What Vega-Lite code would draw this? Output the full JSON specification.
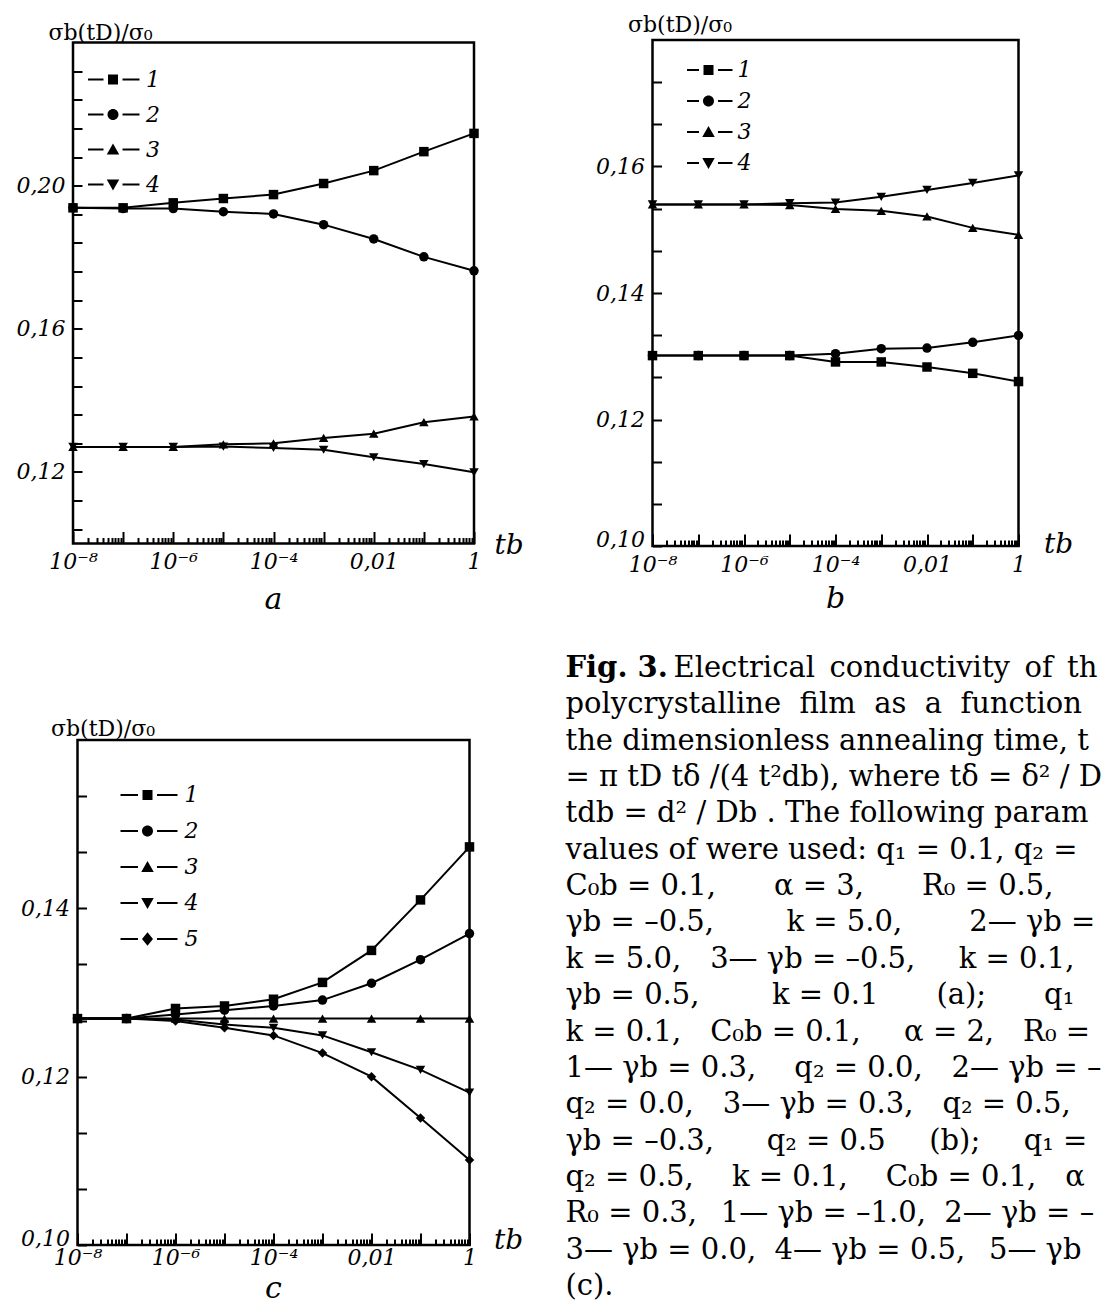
{
  "$schema": "https://vega.github.io/schema/vega-lite/v6.json",
  "background": "white",
  "padding": {"left": 14, "top": 11, "right": 0, "bottom": 0},
  "columns": 2,
  "bounds": "flush",
  "center": true,
  "spacing": {"row": 194, "column": 178.5},
  "config": {
    "view": {"stroke": "black", "strokeWidth": 2.5},
    "font": "DejaVu Serif",
    "axis": {"domain": false, "grid": false, "labelFont": "DejaVu Serif", "labelFontStyle": "italic", "labelFontSize": 22, "labelColor": "black", "tickColor": "black", "tickWidth": 2, "titleFont": "DejaVu Serif", "titleFontWeight": "normal", "titleFontSize": 22, "titleColor": "black", "labelOverlap": false, "labelFlush": false, "labelBound": false},
    "legend": {"orient": "none", "title": null, "padding": 0, "labelFont": "DejaVu Serif", "labelFontStyle": "italic", "labelFontSize": 22, "labelColor": "black", "symbolSize": 100, "symbolStrokeWidth": 2, "symbolStrokeColor": "black", "symbolFillColor": "black", "symbolOpacity": 1},
    "title": {"font": "DejaVu Serif", "fontStyle": "italic", "fontWeight": "normal", "fontSize": 30, "color": "black", "orient": "bottom"}
  },
  "datasets": {
    "pa": [
      {"t":1e-8,"v":0.1938,"s":"1"},{"t":1e-7,"v":0.1938,"s":"1"},{"t":1e-6,"v":0.1952,"s":"1"},{"t":1e-5,"v":0.1964,"s":"1"},{"t":1e-4,"v":0.1975,"s":"1"},{"t":1e-3,"v":0.2006,"s":"1"},{"t":1e-2,"v":0.2042,"s":"1"},{"t":1e-1,"v":0.2095,"s":"1"},{"t":1,"v":0.2146,"s":"1"},
      {"t":1e-8,"v":0.1938,"s":"2"},{"t":1e-7,"v":0.1936,"s":"2"},{"t":1e-6,"v":0.1936,"s":"2"},{"t":1e-5,"v":0.1927,"s":"2"},{"t":1e-4,"v":0.1921,"s":"2"},{"t":1e-3,"v":0.1891,"s":"2"},{"t":1e-2,"v":0.1851,"s":"2"},{"t":1e-1,"v":0.1801,"s":"2"},{"t":1,"v":0.1762,"s":"2"},
      {"t":1e-8,"v":0.1270,"s":"3"},{"t":1e-7,"v":0.1270,"s":"3"},{"t":1e-6,"v":0.1270,"s":"3"},{"t":1e-5,"v":0.1277,"s":"3"},{"t":1e-4,"v":0.1280,"s":"3"},{"t":1e-3,"v":0.1295,"s":"3"},{"t":1e-2,"v":0.1307,"s":"3"},{"t":1e-1,"v":0.1339,"s":"3"},{"t":1,"v":0.1355,"s":"3"},
      {"t":1e-8,"v":0.1270,"s":"4"},{"t":1e-7,"v":0.1270,"s":"4"},{"t":1e-6,"v":0.1270,"s":"4"},{"t":1e-5,"v":0.1271,"s":"4"},{"t":1e-4,"v":0.1267,"s":"4"},{"t":1e-3,"v":0.1262,"s":"4"},{"t":1e-2,"v":0.1241,"s":"4"},{"t":1e-1,"v":0.1222,"s":"4"},{"t":1,"v":0.1199,"s":"4"}
    ],
    "pb": [
      {"t":1e-8,"v":0.1301,"s":"1"},{"t":1e-7,"v":0.1301,"s":"1"},{"t":1e-6,"v":0.1301,"s":"1"},{"t":1e-5,"v":0.1301,"s":"1"},{"t":1e-4,"v":0.1291,"s":"1"},{"t":1e-3,"v":0.1291,"s":"1"},{"t":1e-2,"v":0.1283,"s":"1"},{"t":1e-1,"v":0.1273,"s":"1"},{"t":1,"v":0.1260,"s":"1"},
      {"t":1e-8,"v":0.1301,"s":"2"},{"t":1e-7,"v":0.1301,"s":"2"},{"t":1e-6,"v":0.1301,"s":"2"},{"t":1e-5,"v":0.1301,"s":"2"},{"t":1e-4,"v":0.1304,"s":"2"},{"t":1e-3,"v":0.1312,"s":"2"},{"t":1e-2,"v":0.1313,"s":"2"},{"t":1e-1,"v":0.1322,"s":"2"},{"t":1,"v":0.1333,"s":"2"},
      {"t":1e-8,"v":0.1540,"s":"3"},{"t":1e-7,"v":0.1540,"s":"3"},{"t":1e-6,"v":0.1540,"s":"3"},{"t":1e-5,"v":0.1539,"s":"3"},{"t":1e-4,"v":0.1533,"s":"3"},{"t":1e-3,"v":0.1530,"s":"3"},{"t":1e-2,"v":0.1521,"s":"3"},{"t":1e-1,"v":0.1503,"s":"3"},{"t":1,"v":0.1492,"s":"3"},
      {"t":1e-8,"v":0.1540,"s":"4"},{"t":1e-7,"v":0.1540,"s":"4"},{"t":1e-6,"v":0.1540,"s":"4"},{"t":1e-5,"v":0.1542,"s":"4"},{"t":1e-4,"v":0.1543,"s":"4"},{"t":1e-3,"v":0.1552,"s":"4"},{"t":1e-2,"v":0.1563,"s":"4"},{"t":1e-1,"v":0.1574,"s":"4"},{"t":1,"v":0.1586,"s":"4"}
    ],
    "pc": [
      {"t":1e-8,"v":0.1269,"s":"1"},{"t":1e-7,"v":0.1269,"s":"1"},{"t":1e-6,"v":0.1281,"s":"1"},{"t":1e-5,"v":0.1284,"s":"1"},{"t":1e-4,"v":0.1292,"s":"1"},{"t":1e-3,"v":0.1312,"s":"1"},{"t":1e-2,"v":0.1350,"s":"1"},{"t":1e-1,"v":0.1410,"s":"1"},{"t":1,"v":0.1473,"s":"1"},
      {"t":1e-8,"v":0.1269,"s":"2"},{"t":1e-7,"v":0.1269,"s":"2"},{"t":1e-6,"v":0.1274,"s":"2"},{"t":1e-5,"v":0.1279,"s":"2"},{"t":1e-4,"v":0.1284,"s":"2"},{"t":1e-3,"v":0.1291,"s":"2"},{"t":1e-2,"v":0.1311,"s":"2"},{"t":1e-1,"v":0.1339,"s":"2"},{"t":1,"v":0.1370,"s":"2"},
      {"t":1e-8,"v":0.1269,"s":"3"},{"t":1e-7,"v":0.1269,"s":"3"},{"t":1e-6,"v":0.1269,"s":"3"},{"t":1e-5,"v":0.1269,"s":"3"},{"t":1e-4,"v":0.1269,"s":"3"},{"t":1e-3,"v":0.1269,"s":"3"},{"t":1e-2,"v":0.1269,"s":"3"},{"t":1e-1,"v":0.1269,"s":"3"},{"t":1,"v":0.1269,"s":"3"},
      {"t":1e-8,"v":0.1269,"s":"4"},{"t":1e-7,"v":0.1269,"s":"4"},{"t":1e-6,"v":0.1268,"s":"4"},{"t":1e-5,"v":0.1262,"s":"4"},{"t":1e-4,"v":0.1258,"s":"4"},{"t":1e-3,"v":0.1249,"s":"4"},{"t":1e-2,"v":0.1229,"s":"4"},{"t":1e-1,"v":0.1208,"s":"4"},{"t":1,"v":0.1181,"s":"4"},
      {"t":1e-8,"v":0.1269,"s":"5"},{"t":1e-7,"v":0.1269,"s":"5"},{"t":1e-6,"v":0.1266,"s":"5"},{"t":1e-5,"v":0.1258,"s":"5"},{"t":1e-4,"v":0.1249,"s":"5"},{"t":1e-3,"v":0.1228,"s":"5"},{"t":1e-2,"v":0.1200,"s":"5"},{"t":1e-1,"v":0.1151,"s":"5"},{"t":1,"v":0.1101,"s":"5"}
    ],
    "cap": [
      {"line":1,"part":"bold","text":"Fig. 3."},
      {"line":1,"part":"rest","text":"Electrical\u2002conductivity\u2002of\u2002the"},
      {"line":2,"part":"body","text":"polycrystalline\u00a0\u00a0film\u00a0\u00a0as\u00a0\u00a0a\u00a0\u00a0function\u00a0\u00a0of"},
      {"line":3,"part":"body","text":"the dimensionless annealing time, tb"},
      {"line":4,"part":"body","text":"= π tD tδ /(4 t²db), where tδ = δ² / Dₗ and"},
      {"line":5,"part":"body","text":"tdb = d² / Db . The following parameter"},
      {"line":6,"part":"body","text":"values of were used: q₁ = 0.1, q₂ = 0.0,"},
      {"line":7,"part":"body","text":"C₀b = 0.1,\u2003\u2003α = 3,\u2003\u2003R₀ = 0.5,\u2003\u20021—"},
      {"line":8,"part":"body","text":"γb = –0.5,\u2003\u2003\u2002k = 5.0,\u2003\u2003\u00a02— γb = 0.5,"},
      {"line":9,"part":"body","text":"k = 5.0,\u20033— γb = –0.5,\u2003\u2002k = 0.1,\u2003\u00a04— γb"},
      {"line":10,"part":"body","text":"γb = 0.5,\u2003\u2003\u2002k = 0.1\u2003\u2003(a);\u2003\u2003q₁ = 0.1,"},
      {"line":11,"part":"body","text":"k = 0.1,\u2003C₀b = 0.1,\u2003\u2002α = 2,\u2003R₀ = 0.3,"},
      {"line":12,"part":"body","text":"1— γb = 0.3,\u2003\u00a0q₂ = 0.0,\u20032— γb = –0.3,"},
      {"line":13,"part":"body","text":"q₂ = 0.0,\u20033— γb = 0.3,\u2003q₂ = 0.5,\u2003\u00a04—"},
      {"line":14,"part":"body","text":"γb = –0.3,\u2003\u2002\u00a0q₂ = 0.5\u2003\u2002(b);\u2003\u2002q₁ = 0.1,"},
      {"line":15,"part":"body","text":"q₂ = 0.5,\u2003\u00a0k = 0.1,\u2003\u00a0C₀b = 0.1,\u2003α = 2,"},
      {"line":16,"part":"body","text":"R₀ = 0.3,\u00a0\u20021— γb = –1.0,\u00a0\u00a02— γb = –0.5,"},
      {"line":17,"part":"body","text":"3— γb = 0.0,\u00a0\u00a04— γb = 0.5,\u00a0\u20025— γb = 1.0"},
      {"line":18,"part":"body","text":"(c)."}
    ]
  },
  "concat": [
    {
      "width": 401, "height": 501,
      "title": {"text": "a", "offset": 6},
      "data": {"name": "pa"},
      "encoding": {
        "x": {"field": "t", "type": "quantitative", "scale": {"type": "log", "domain": [1e-8, 1], "nice": false},
          "axis": {"values": [1e-8,2e-8,3e-8,4e-8,5e-8,6e-8,7e-8,8e-8,9e-8,1e-7,2e-7,3e-7,4e-7,5e-7,6e-7,7e-7,8e-7,9e-7,1e-6,2e-6,3e-6,4e-6,5e-6,6e-6,7e-6,8e-6,9e-6,1e-5,2e-5,3e-5,4e-5,5e-5,6e-5,7e-5,8e-5,9e-5,1e-4,2e-4,3e-4,4e-4,5e-4,6e-4,7e-4,8e-4,9e-4,1e-3,2e-3,3e-3,4e-3,5e-3,6e-3,7e-3,8e-3,9e-3,1e-2,2e-2,3e-2,4e-2,5e-2,6e-2,7e-2,8e-2,9e-2,1e-1,2e-1,3e-1,4e-1,5e-1,6e-1,7e-1,8e-1,9e-1,1],
            "tickSize": {"condition": {"test": "abs(log(datum.value)/LN10 - round(log(datum.value)/LN10)) < 0.001", "value": -12}, "value": -6},
            "labelExpr": "abs(datum.value-1e-8)<1e-12 ? '10⁻⁸' : abs(datum.value-1e-6)<1e-10 ? '10⁻⁶' : abs(datum.value-1e-4)<1e-8 ? '10⁻⁴' : abs(datum.value-0.01)<1e-6 ? '0,01' : abs(datum.value-1)<1e-4 ? '1' : ''",
            "labelPadding": 20,
            "title": "tb", "titleFontStyle": "italic", "titleFontSize": 28, "titleAlign": "left", "titleBaseline": "alphabetic", "titleX": 421, "titleY": 10}},
        "y": {"field": "v", "type": "quantitative", "scale": {"domain": [0.10, 0.24], "nice": false, "zero": false},
          "axis": {"values": [0.104,0.112,0.12,0.128,0.136,0.144,0.152,0.16,0.168,0.176,0.184,0.192,0.2,0.208,0.216,0.224,0.232],
            "tickSize": -9,
            "labelExpr": "abs(datum.value*25 - round(datum.value*25)) < 0.001 ? replace(format(datum.value, '.2f'), '.', ',') : ''",
            "labelPadding": 17,
            "title": "σb(tD)/σ₀", "titleAngle": 0, "titleAlign": "left", "titleBaseline": "alphabetic", "titleX": -25, "titleY": -3}}
      },
      "layer": [
        {"mark": {"type": "line", "color": "black", "strokeWidth": 2}, "encoding": {"detail": {"field": "s"}}},
        {"mark": {"type": "point", "filled": true, "color": "black", "opacity": 1, "size": 90},
          "encoding": {"shape": {"field": "s", "type": "nominal", "scale": {"domain": ["1","2","3","4"], "range": ["square","circle","triangle-up","triangle-down"]}, "legend": null}}},
        {"transform": [{"filter": "false"}],
          "mark": {"type": "point", "filled": true, "color": "black", "size": 100},
          "encoding": {"shape": {"field": "s", "type": "nominal",
            "scale": {"domain": ["1","2","3","4"], "range": ["M-5,-0.2H-1.9V0.2H-5ZM1.9,-0.2H5.3V0.2H1.9ZM-1,-1H1V1H-1Z", "M-5,-0.2H-1.9V0.2H-5ZM1.9,-0.2H5.3V0.2H1.9ZM-1.1,0A1.1,1.1 0 1 1 1.1,0A1.1,1.1 0 1 1 -1.1,0Z", "M-5,-0.2H-1.9V0.2H-5ZM1.9,-0.2H5.3V0.2H1.9ZM0,-1.2L1.25,1L-1.25,1Z", "M-5,-0.2H-1.9V0.2H-5ZM1.9,-0.2H5.3V0.2H1.9ZM0,1.2L1.25,-1L-1.25,-1Z"]},
            "legend": {"legendX": 29, "legendY": 26, "labelOffset": 22, "rowPadding": 13}}}}
      ],
      "resolve": {"scale": {"shape": "independent"}}
    },
    {
      "width": 366, "height": 506,
      "title": {"text": "b", "offset": 3},
      "data": {"name": "pb"},
      "encoding": {
        "x": {"field": "t", "type": "quantitative", "scale": {"type": "log", "domain": [1e-8, 1], "nice": false},
          "axis": {"values": [1e-8,2e-8,3e-8,4e-8,5e-8,6e-8,7e-8,8e-8,9e-8,1e-7,2e-7,3e-7,4e-7,5e-7,6e-7,7e-7,8e-7,9e-7,1e-6,2e-6,3e-6,4e-6,5e-6,6e-6,7e-6,8e-6,9e-6,1e-5,2e-5,3e-5,4e-5,5e-5,6e-5,7e-5,8e-5,9e-5,1e-4,2e-4,3e-4,4e-4,5e-4,6e-4,7e-4,8e-4,9e-4,1e-3,2e-3,3e-3,4e-3,5e-3,6e-3,7e-3,8e-3,9e-3,1e-2,2e-2,3e-2,4e-2,5e-2,6e-2,7e-2,8e-2,9e-2,1e-1,2e-1,3e-1,4e-1,5e-1,6e-1,7e-1,8e-1,9e-1,1],
            "tickSize": {"condition": {"test": "abs(log(datum.value)/LN10 - round(log(datum.value)/LN10)) < 0.001", "value": -12}, "value": -6},
            "labelExpr": "abs(datum.value-1e-8)<1e-12 ? '10⁻⁸' : abs(datum.value-1e-6)<1e-10 ? '10⁻⁶' : abs(datum.value-1e-4)<1e-8 ? '10⁻⁴' : abs(datum.value-0.01)<1e-6 ? '0,01' : abs(datum.value-1)<1e-4 ? '1' : ''",
            "labelPadding": 20,
            "title": "tb", "titleFontStyle": "italic", "titleFontSize": 28, "titleAlign": "left", "titleBaseline": "alphabetic", "titleX": 391, "titleY": 6}},
        "y": {"field": "v", "type": "quantitative", "scale": {"domain": [0.10, 0.18], "nice": false, "zero": false},
          "axis": {"values": [0.1,0.106667,0.113333,0.12,0.126667,0.133333,0.14,0.146667,0.153333,0.16,0.166667,0.173333],
            "tickSize": -9,
            "labelExpr": "abs(datum.value*50 - round(datum.value*50)) < 0.001 ? replace(format(datum.value, '.2f'), '.', ',') : ''",
            "labelBaseline": {"condition": {"test": "datum.value < 0.1001", "value": "alphabetic"}, "value": "middle"},
            "labelPadding": 17,
            "title": "σb(tD)/σ₀", "titleAngle": 0, "titleAlign": "left", "titleBaseline": "alphabetic", "titleX": -25, "titleY": -9}}
      },
      "layer": [
        {"mark": {"type": "line", "color": "black", "strokeWidth": 2}, "encoding": {"detail": {"field": "s"}}},
        {"mark": {"type": "point", "filled": true, "color": "black", "opacity": 1, "size": 90},
          "encoding": {"shape": {"field": "s", "type": "nominal", "scale": {"domain": ["1","2","3","4"], "range": ["square","circle","triangle-up","triangle-down"]}, "legend": null}}},
        {"transform": [{"filter": "false"}],
          "mark": {"type": "point", "filled": true, "color": "black", "size": 100},
          "encoding": {"shape": {"field": "s", "type": "nominal",
            "scale": {"domain": ["1","2","3","4"], "range": ["M-4.3,-0.2H-1.9V0.2H-4.3ZM1.9,-0.2H4.8V0.2H1.9ZM-1,-1H1V1H-1Z", "M-4.3,-0.2H-1.9V0.2H-4.3ZM1.9,-0.2H4.8V0.2H1.9ZM-1.1,0A1.1,1.1 0 1 1 1.1,0A1.1,1.1 0 1 1 -1.1,0Z", "M-4.3,-0.2H-1.9V0.2H-4.3ZM1.9,-0.2H4.8V0.2H1.9ZM0,-1.2L1.25,1L-1.25,1Z", "M-4.3,-0.2H-1.9V0.2H-4.3ZM1.9,-0.2H4.8V0.2H1.9ZM0,1.2L1.25,-1L-1.25,-1Z"]},
            "legend": {"legendX": 45, "legendY": 19, "labelOffset": 18, "rowPadding": 9}}}}
      ],
      "resolve": {"scale": {"shape": "independent"}}
    },
    {
      "width": 392, "height": 505,
      "title": {"text": "c", "offset": 0},
      "data": {"name": "pc"},
      "encoding": {
        "x": {"field": "t", "type": "quantitative", "scale": {"type": "log", "domain": [1e-8, 1], "nice": false},
          "axis": {"values": [1e-8,2e-8,3e-8,4e-8,5e-8,6e-8,7e-8,8e-8,9e-8,1e-7,2e-7,3e-7,4e-7,5e-7,6e-7,7e-7,8e-7,9e-7,1e-6,2e-6,3e-6,4e-6,5e-6,6e-6,7e-6,8e-6,9e-6,1e-5,2e-5,3e-5,4e-5,5e-5,6e-5,7e-5,8e-5,9e-5,1e-4,2e-4,3e-4,4e-4,5e-4,6e-4,7e-4,8e-4,9e-4,1e-3,2e-3,3e-3,4e-3,5e-3,6e-3,7e-3,8e-3,9e-3,1e-2,2e-2,3e-2,4e-2,5e-2,6e-2,7e-2,8e-2,9e-2,1e-1,2e-1,3e-1,4e-1,5e-1,6e-1,7e-1,8e-1,9e-1,1],
            "tickSize": {"condition": {"test": "abs(log(datum.value)/LN10 - round(log(datum.value)/LN10)) < 0.001", "value": -12}, "value": -6},
            "labelExpr": "abs(datum.value-1e-8)<1e-12 ? '10⁻⁸' : abs(datum.value-1e-6)<1e-10 ? '10⁻⁶' : abs(datum.value-1e-4)<1e-8 ? '10⁻⁴' : abs(datum.value-0.01)<1e-6 ? '0,01' : abs(datum.value-1)<1e-4 ? '1' : ''",
            "labelPadding": 14,
            "title": "tb", "titleFontStyle": "italic", "titleFontSize": 28, "titleAlign": "left", "titleBaseline": "alphabetic", "titleX": 416, "titleY": 3}},
        "y": {"field": "v", "type": "quantitative", "scale": {"domain": [0.10, 0.16], "nice": false, "zero": false},
          "axis": {"values": [0.1,0.106667,0.113333,0.12,0.126667,0.133333,0.14,0.146667,0.153333],
            "tickSize": -9,
            "labelExpr": "abs(datum.value*50 - round(datum.value*50)) < 0.001 ? replace(format(datum.value, '.2f'), '.', ',') : ''",
            "labelBaseline": {"condition": {"test": "datum.value < 0.1001", "value": "alphabetic"}, "value": "middle"},
            "labelPadding": 17,
            "title": "σb(tD)/σ₀", "titleAngle": 0, "titleAlign": "left", "titleBaseline": "alphabetic", "titleX": -27, "titleY": -5}}
      },
      "layer": [
        {"mark": {"type": "line", "color": "black", "strokeWidth": 2}, "encoding": {"detail": {"field": "s"}}},
        {"mark": {"type": "point", "filled": true, "color": "black", "opacity": 1, "size": 90},
          "encoding": {"shape": {"field": "s", "type": "nominal", "scale": {"domain": ["1","2","3","4","5"], "range": ["square","circle","triangle-up","triangle-down","diamond"]}, "legend": null}}},
        {"transform": [{"filter": "false"}],
          "mark": {"type": "point", "filled": true, "color": "black", "size": 100},
          "encoding": {"shape": {"field": "s", "type": "nominal",
            "scale": {"domain": ["1","2","3","4","5"], "range": ["M-5.4,-0.2H-1.9V0.2H-5.4ZM1.9,-0.2H6V0.2H1.9ZM-1,-1H1V1H-1Z", "M-5.4,-0.2H-1.9V0.2H-5.4ZM1.9,-0.2H6V0.2H1.9ZM-1.1,0A1.1,1.1 0 1 1 1.1,0A1.1,1.1 0 1 1 -1.1,0Z", "M-5.4,-0.2H-1.9V0.2H-5.4ZM1.9,-0.2H6V0.2H1.9ZM0,-1.2L1.25,1L-1.25,1Z", "M-5.4,-0.2H-1.9V0.2H-5.4ZM1.9,-0.2H6V0.2H1.9ZM0,1.2L1.25,-1L-1.25,-1Z", "M-5.4,-0.2H-1.9V0.2H-5.4ZM1.9,-0.2H6V0.2H1.9ZM0,-1.35L1.1,0L0,1.35L-1.1,0Z"]},
            "legend": {"legendX": 59, "legendY": 44, "labelOffset": 26, "rowPadding": 14}}}}
      ],
      "resolve": {"scale": {"shape": "independent"}}
    },
    {
      "width": 366, "height": 505,
      "view": {"stroke": null},
      "data": {"name": "cap"},
      "encoding": {
        "y": {"field": "line", "type": "quantitative", "scale": {"domain": [1, 18], "range": [-63, 555]}, "axis": null},
        "x": {"value": 0},
        "text": {"field": "text"}
      },
      "layer": [
        {"transform": [{"filter": "datum.part == 'bold'"}],
          "mark": {"type": "text", "align": "left", "baseline": "alphabetic", "font": "DejaVu Serif", "fontSize": 29, "fontWeight": "bold", "color": "black", "dx": -87}},
        {"transform": [{"filter": "datum.part == 'rest'"}],
          "mark": {"type": "text", "align": "left", "baseline": "alphabetic", "font": "DejaVu Serif", "fontSize": 29, "color": "black", "dx": 21, "limit": 429, "ellipsis": "\u200b"}},
        {"transform": [{"filter": "datum.part == 'body'"}],
          "mark": {"type": "text", "align": "left", "baseline": "alphabetic", "font": "DejaVu Serif", "fontSize": 29, "color": "black", "dx": -87, "limit": 537, "ellipsis": "\u200b"}}
      ]
    }
  ]
}
